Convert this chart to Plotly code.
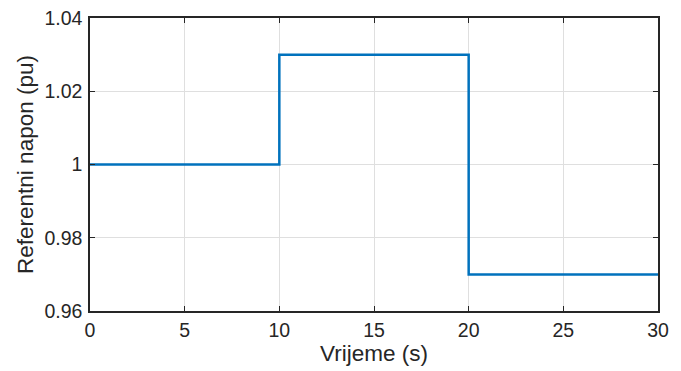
import plotly.graph_objects as go

time_s = [0, 10, 20, 30]
ref_voltage = [1.0, 1.03, 0.97, 0.97]
x_ticks = [0, 5, 10, 15, 20, 25, 30]
y_ticks = [0.96, 0.98, 1.0, 1.02, 1.04]
y_labels = ["0.96", "0.98", "1", "1.02", "1.04"]

FONT = "Liberation Sans, Arial"
fig = go.Figure()
fig.add_trace(go.Scatter(x=time_s, y=ref_voltage, mode="lines", line_shape="hv",
                         line=dict(color="#0072BD", width=2.5)))

axis_common = dict(showline=True, linecolor="#262626", linewidth=1.5, mirror="ticks",
                   ticks="inside", ticklen=5, tickcolor="#262626", tickwidth=1,
                   showgrid=True, gridcolor="#DFDFDF", gridwidth=1, zeroline=False,
                   automargin=False, ticklabeloverflow="allow",
                   tickfont=dict(family=FONT, size=19.5, color="#262626"))
fig.update_xaxes(range=[0, 30], tickvals=x_ticks, ticklabelstandoff=1, **axis_common,
                 title=dict(text="Vrijeme (s)", font=dict(family=FONT, size=22.5, color="#262626"), standoff=3))
fig.update_yaxes(range=[0.96, 1.04], tickvals=y_ticks, ticktext=y_labels, ticklabelstandoff=2, **axis_common,
                 title=dict(text="Referentni napon (pu)", font=dict(family=FONT, size=22.5, color="#262626"), standoff=5))
# page body adds ~8px offset; compensate
fig.update_layout(width=673, height=363, margin=dict(l=82, r=23, t=10, b=60),
                  plot_bgcolor="white", paper_bgcolor="white", showlegend=False)
fig.write_html("out.html")
